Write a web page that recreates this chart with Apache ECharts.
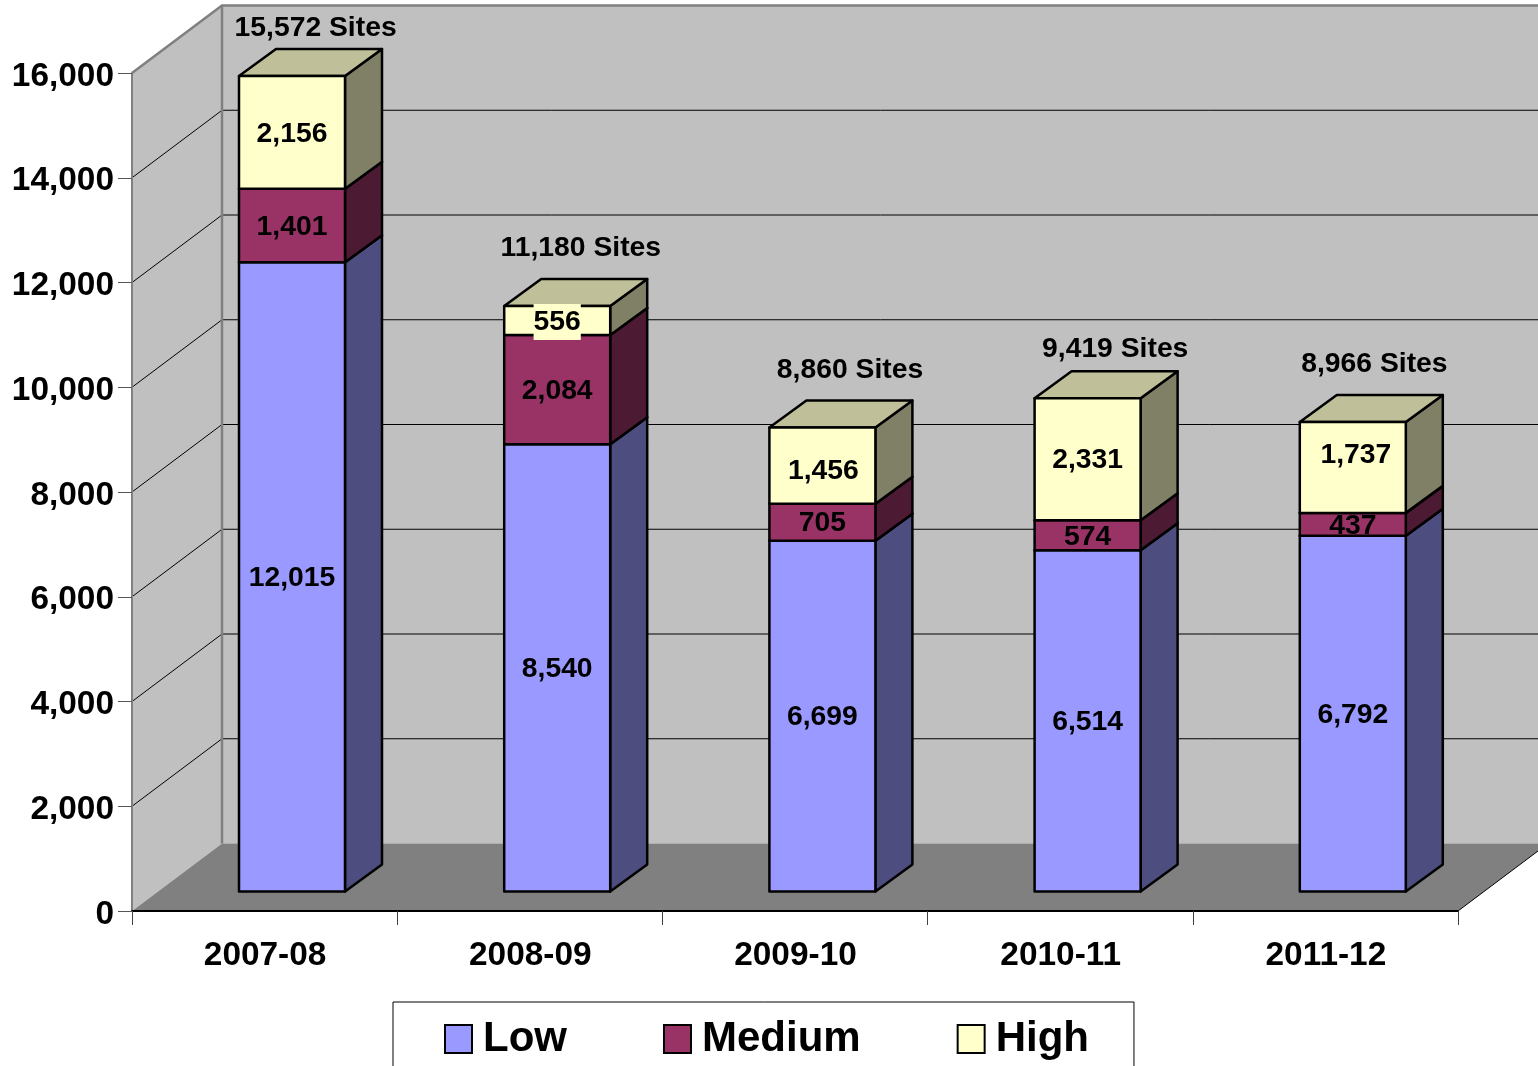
<!DOCTYPE html>
<html>
<head>
<meta charset="utf-8">
<title>Sites by risk level</title>
<script src="https://cdn.jsdelivr.net/npm/echarts@6/dist/echarts.min.js"></script>
<style>
  html, body { margin: 0; padding: 0; background: #fff; }
  #chart { width: 1538px; height: 1066px; }
</style>
</head>
<body>
<div id="chart"></div>
<script>
const categories = ['2007-08', '2008-09', '2009-10', '2010-11', '2011-12']
const low = [12015, 8540, 6699, 6514, 6792]
const medium = [1401, 2084, 705, 574, 437]
const high = [2156, 556, 1456, 2331, 1737]
const yTicks = [0, 2000, 4000, 6000, 8000, 10000, 12000, 14000, 16000]

// hand placed labels in the original, px
const siteLabelOffsets = [[51, -67], [51, -77], [55, -77], [55, -68], [49, -77]]
const highLabelNudges = [[0, 0], [0, 0], [1, 4], [0, -1], [3, -14]]

const FONT = '"Liberation Sans", Arial, sans-serif'
const WALL_DX = 90
const WALL_DY = -67.5
const BAR_DX = 27.4 // front face of the bars sits inside the floor
const BAR_DY = -19.5
const BAR_DEPTH_X = 37
const BAR_DEPTH_Y = -27
const BAR_HALF = 53
const LABEL_DY = 1.5

const fmt = v => v.toString().replace(/\B(?=(\d{3})+$)/g, ',')

function renderWalls(params, api) {
  const sys = params.coordSys
  const x0 = sys.x
  const x1 = sys.x + sys.width
  const y0 = api.coord([0, 0])[1]
  const yTop = api.coord([0, yTicks[yTicks.length - 1]])[1]
  const bx0 = x0 + WALL_DX
  const bx1 = x1 + WALL_DX
  const wall = { fill: '#c0c0c0' }
  const edge = { stroke: '#808080', lineWidth: 2.5, fill: null }
  const children = [
    { type: 'polygon', shape: { points: [[bx0, yTop + WALL_DY], [bx1, yTop + WALL_DY], [bx1, y0 + WALL_DY], [bx0, y0 + WALL_DY]] }, style: wall },
    { type: 'polygon', shape: { points: [[x0, yTop], [bx0, yTop + WALL_DY], [bx0, y0 + WALL_DY], [x0, y0]] }, style: wall },
    { type: 'polygon', shape: { points: [[x0, y0], [x1, y0], [bx1, y0 + WALL_DY], [bx0, y0 + WALL_DY]] }, style: { fill: '#808080' } }
  ]
  yTicks.slice(1, -1).forEach(v => {
    const y = api.coord([0, v])[1]
    children.push({
      type: 'polyline',
      shape: { points: [[x0, y], [bx0, y + WALL_DY], [bx1, y + WALL_DY]] },
      style: { stroke: '#000', lineWidth: 1, fill: null }
    })
  })
  children.push(
    { type: 'polyline', shape: { points: [[x0, yTop], [bx0, yTop + WALL_DY], [bx1, yTop + WALL_DY]] }, style: edge },
    { type: 'polyline', shape: { points: [[bx0, yTop + WALL_DY], [bx0, y0 + WALL_DY]] }, style: edge },
    { type: 'polyline', shape: { points: [[x1, y0], [bx1, y0 + WALL_DY]] }, style: { stroke: '#000', lineWidth: 1, fill: null } }
  )
  return { type: 'group', children }
}

function barRenderer(front, side, top, labelBg, nudges) {
  return function(params, api) {
    const i = api.value(0)
    const a = api.coord([i, api.value(1)])
    const b = api.coord([i, api.value(2)])
    const cx = a[0] + BAR_DX
    const l = cx - BAR_HALF
    const r = cx + BAR_HALF
    const yb = a[1] + BAR_DY
    const yt = b[1] + BAR_DY
    const nudge = nudges ? nudges[i] : [0, 0]
    const line = { stroke: '#000', lineWidth: 2.5, lineJoin: 'round' }
    const text = {
      type: 'text',
      z2: 100,
      style: {
        x: cx + nudge[0],
        y: (yb + yt) / 2 + LABEL_DY + nudge[1],
        text: fmt(api.value(3)),
        align: 'center',
        verticalAlign: 'middle',
        font: 'bold 28.3px ' + FONT,
        fill: '#000'
      }
    }
    if (labelBg) {
      text.style.backgroundColor = labelBg
      text.style.padding = [4, 0]
    }
    return {
      type: 'group',
      children: [
        { type: 'polygon', shape: { points: [[r, yb], [r + BAR_DEPTH_X, yb + BAR_DEPTH_Y], [r + BAR_DEPTH_X, yt + BAR_DEPTH_Y], [r, yt]] }, style: Object.assign({ fill: side }, line) },
        { type: 'polygon', shape: { points: [[l, yt], [r, yt], [r + BAR_DEPTH_X, yt + BAR_DEPTH_Y], [l + BAR_DEPTH_X, yt + BAR_DEPTH_Y]] }, style: Object.assign({ fill: top }, line) },
        { type: 'polygon', shape: { points: [[l, yb], [r, yb], [r, yt], [l, yt]] }, style: Object.assign({ fill: front }, line) },
        text
      ]
    }
  }
}

function renderSites(params, api) {
  const i = api.value(0)
  const p = api.coord([i, api.value(1)])
  const off = siteLabelOffsets[i]
  return {
    type: 'text',
    z2: 100,
    style: {
      x: p[0] + off[0],
      y: p[1] + off[1],
      text: fmt(api.value(1)) + ' Sites',
      align: 'center',
      verticalAlign: 'middle',
      font: 'bold 28.3px ' + FONT,
      fill: '#000'
    }
  }
}

function stackData(values, under) {
  return values.map((v, i) => [i, under[i], under[i] + v, v])
}

const lowBase = low.map(() => 0)
const mediumBase = low.slice()
const highBase = low.map((v, i) => v + medium[i])
const totals = low.map((v, i) => v + medium[i] + high[i])

const chart = echarts.init(document.getElementById('chart'))
chart.setOption({
  animation: false,
  backgroundColor: '#fff',
  grid: { left: 132, top: 73, width: 1326, height: 838 },
  legend: {
    left: 393,
    top: 1002,
    orient: 'horizontal',
    selectedMode: false,
    padding: [16, 45, 40, 51],
    borderColor: '#000',
    borderWidth: 1,
    itemWidth: 27,
    itemHeight: 28,
    itemGap: 96,
    textStyle: { fontFamily: FONT, fontWeight: 'bold', fontSize: 42, color: '#000', padding: [0, 0, 0, 6] },
    data: [
      { name: 'Low', icon: 'rect', itemStyle: { color: '#9999ff', borderColor: '#000', borderWidth: 2 } },
      { name: 'Medium', icon: 'rect', itemStyle: { color: '#993366', borderColor: '#000', borderWidth: 2 } },
      { name: 'High', icon: 'rect', itemStyle: { color: '#ffffcc', borderColor: '#000', borderWidth: 2 } }
    ]
  },
  xAxis: {
    type: 'category',
    data: categories,
    z: 5,
    axisLine: { lineStyle: { color: '#000', width: 2 } },
    axisTick: { show: true, alignWithLabel: false, length: 14, lineStyle: { color: '#404040', width: 1 } },
    axisLabel: { margin: 28, color: '#000', fontFamily: FONT, fontWeight: 'bold', fontSize: 33.4, padding: [0, 0, 0, 1] }
  },
  yAxis: {
    type: 'value',
    min: 0,
    max: 16000,
    interval: 2000,
    z: 5,
    splitLine: { show: false },
    axisLine: { show: true, lineStyle: { color: '#808080', width: 2 } },
    axisTick: { show: true, length: 14, lineStyle: { color: '#555', width: 1 } },
    axisLabel: {
      margin: 18,
      formatter: v => '{t|' + fmt(v) + '}',
      rich: {
        t: { color: '#000', fontFamily: FONT, fontWeight: 'bold', fontSize: 33.4, padding: [7, 0, 0, 0] }
      }
    }
  },
  series: [
    { type: 'custom', name: 'walls', z: 1, silent: true, data: [[0]], renderItem: renderWalls },
    { type: 'custom', name: 'Low', z: 6, silent: true, data: stackData(low, lowBase), renderItem: barRenderer('#9999ff', '#4d4d80', '#73739f') },
    { type: 'custom', name: 'Medium', z: 6, silent: true, data: stackData(medium, mediumBase), renderItem: barRenderer('#993366', '#4d1a33', '#73264d') },
    { type: 'custom', name: 'High', z: 6, silent: true, data: stackData(high, highBase), renderItem: barRenderer('#ffffcc', '#808066', '#bfbf99', '#ffffcc', highLabelNudges) },
    { type: 'custom', name: 'Sites', z: 7, silent: true, data: totals.map((t, i) => [i, t]), renderItem: renderSites }
  ]
})
</script>
</body>
</html>
